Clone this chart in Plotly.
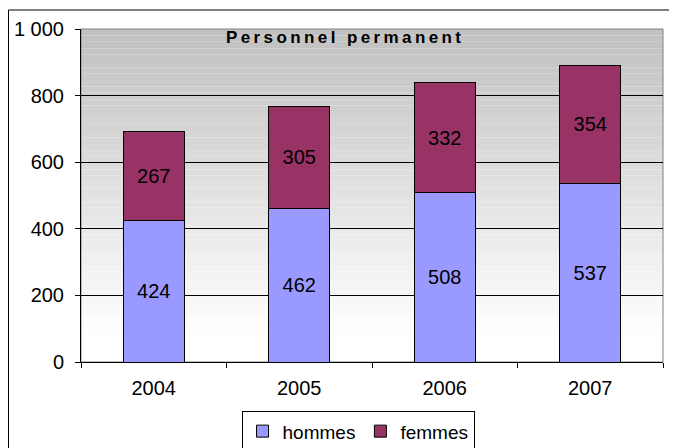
import plotly.graph_objects as go

years = ["2004", "2005", "2006", "2007"]
hommes = [424, 462, 508, 537]
femmes = [267, 305, 332, 354]
ytick_vals = [0, 200, 400, 600, 800, 1000]
ytick_text = ["0", "200", "400", "600", "800", "1 000"]
title_text = "Personnel permanent"

FONT = "Liberation Sans, Arial, sans-serif"

fig = go.Figure()
fig.add_trace(go.Bar(
    x=years, y=hommes, name="hommes",
    marker=dict(color="#9999FF", line=dict(color="black", width=1)),
    text=hommes, textposition="inside", insidetextanchor="middle",
    textfont=dict(color="black", size=20, family=FONT),
    constraintext="none", width=0.42,
))
fig.add_trace(go.Bar(
    x=years, y=femmes, name="femmes",
    marker=dict(color="#993366", line=dict(color="black", width=1)),
    text=femmes, textposition="inside", insidetextanchor="middle",
    textfont=dict(color="black", size=20, family=FONT),
    constraintext="none", width=0.42,
))

# gradient background stripes
shapes = []
n = 48
top, bottom_white = 1.0, 0.08
for i in range(n):
    y1 = top - (top - bottom_white) * i / n
    y0 = top - (top - bottom_white) * (i + 1) / n
    v = int(round(192 + (255 - 192) * (i + 0.5) / n))
    col = f"rgb({v},{v},{v})"
    shapes.append(dict(type="rect", xref="paper", yref="paper", x0=0, x1=1,
                       y0=y0, y1=y1, fillcolor=col, line=dict(width=0),
                       layer="below"))
shapes.append(dict(type="rect", xref="paper", yref="paper", x0=0, x1=1,
                   y0=0, y1=bottom_white, fillcolor="white",
                   line=dict(width=0), layer="below"))
# plot area border (gray)
shapes.append(dict(type="rect", xref="paper", yref="paper", x0=0, x1=1,
                   y0=0, y1=1, fillcolor="rgba(0,0,0,0)",
                   line=dict(color="#808080", width=1), layer="below"))
# outer chart border
shapes.append(dict(type="rect", xref="paper", yref="paper",
                   x0=(0.5 - 73) / 582, x1=(690 - 73) / 582,
                   y0=(354 - 470) / 333, y1=(354 - 2) / 333,
                   fillcolor="rgba(0,0,0,0)",
                   line=dict(color="black", width=1)))

fig.update_layout(
    width=669, height=440,
    margin=dict(l=73, r=14, t=21, b=86, autoexpand=False),
    barmode="stack",
    paper_bgcolor="white",
    plot_bgcolor="white",
    font=dict(family=FONT, size=20, color="black"),
    shapes=shapes,
    showlegend=True,
    legend=dict(
        orientation="h", x=0.476, xanchor="center", y=-0.148, yanchor="top",
        bordercolor="black", borderwidth=1, bgcolor="white",
        font=dict(size=19, family=FONT), traceorder="normal",
        itemwidth=30,
    ),
    annotations=[dict(
        text=f"<span style='letter-spacing:3.4px'><b>{title_text}</b></span>",
        xref="paper", yref="paper", x=(337 - 73) / 582, y=(354 - 30) / 333,
        xanchor="center", yanchor="middle", showarrow=False,
        font=dict(size=17, family=FONT, color="black"),
    )],
)
fig.update_xaxes(
    type="category", showgrid=False, showline=True, linecolor="black",
    linewidth=1, ticks="outside", tickson="boundaries", ticklen=5,
    tickcolor="black", tickfont=dict(size=20), zeroline=False,
    automargin=False, ticklabelstandoff=8,
)
fig.update_yaxes(
    range=[0, 1000], tickvals=ytick_vals, ticktext=ytick_text,
    showgrid=True, gridcolor="black", gridwidth=1,
    showline=True, linecolor="black", linewidth=1,
    ticks="outside", ticklen=5, tickcolor="black",
    tickfont=dict(size=20), zeroline=False, ticklabelstandoff=7,
    automargin=False,
)

fig.write_html("out.html")
